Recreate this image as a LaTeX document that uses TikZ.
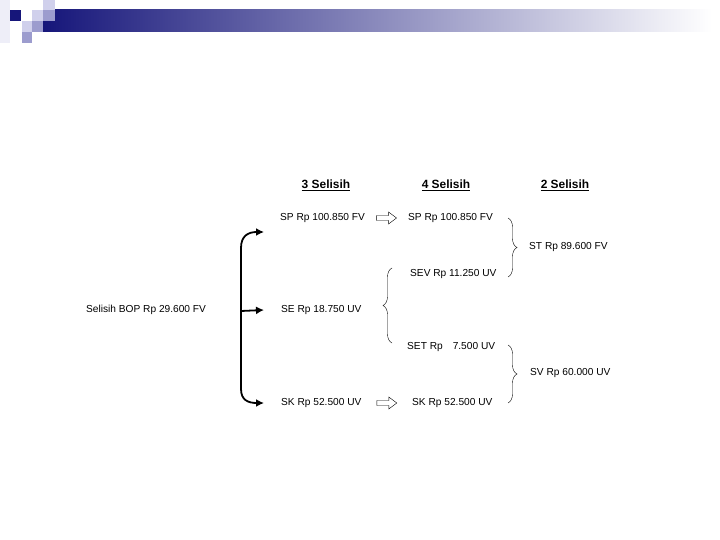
\documentclass[tikz,border=0pt]{standalone}
\usepackage{fontspec}
\setmainfont{Liberation Sans}
\usetikzlibrary{arrows.meta,decorations.pathreplacing,calc}
\definecolor{navy}{HTML}{16167A}
\definecolor{lilac}{HTML}{D0D0EC}
\definecolor{lilacmid}{HTML}{9C9CCE}

\tikzset{
  txt/.style={anchor=west,inner sep=0pt,font=\fontsize{10.2}{12}\selectfont},
  head/.style={inner sep=0pt,font=\fontsize{12}{14}\selectfont\bfseries},
  fork/.style={line width=1.8pt,-{Latex[length=8bp,width=8bp]}},
  brc/.style={decorate,decoration={brace,amplitude=9bp,aspect=0.5},thin},
  hollowarrow/.pic={
    \draw [thin,line join=miter] (-10,-2.5) -- (2,-2.5) -- (2,-6) -- (10,0)
      -- (2,6) -- (2,2.5) -- (-10,2.5) -- cycle;
  }
}

\begin{document}
\begin{tikzpicture}[x=1bp,y=-1bp]
	\useasboundingbox (0,0) rectangle (720,540);

		% header band
		\shade [left color=navy,right color=white] (43,10) rectangle (712,32);
		\fill [lilac!35] (0,0) rectangle (10,43);
		\fill [navy] (10,10) rectangle (21,21);
		\fill [lilac] (43,0) rectangle (55,10);
		\fill [lilac] (32,10) rectangle (43,21);
		\fill [lilacmid] (43,10) rectangle (55,21);
		\fill [lilac] (22,21) rectangle (32,32);
		\fill [lilacmid] (32,21) rectangle (43,32);
		\fill [lilacmid] (22,32) rectangle (32,43);

		% column titles
		\node [head] (h3) at (326,185) {\underline{3 Selisih}};
		\node [head] (h4) at (446,185) {\underline{4 Selisih}};
		\node [head] (h2) at (565,185) {\underline{2 Selisih}};

		% texts
		\node [txt] (bop) at (86,310) {Selisih BOP Rp 29.600 FV};
		\node [txt] (sp3) at (280,218) {SP Rp 100.850 FV};
		\node [txt] (se3) at (281,310) {SE Rp 18.750 UV};
		\node [txt] (sk3) at (281,403) {SK Rp 52.500 UV};
		\node [txt] (sp4) at (408,218) {SP Rp 100.850 FV};
		\node [txt] (sev) at (410,274) {SEV Rp 11.250 UV};
		\node [txt] (set) at (407,347) {SET Rp\hspace{10bp}7.500 UV};
		\node [txt] (sk4) at (412,403) {SK Rp 52.500 UV};
		\node [txt] (st) at (529,247) {ST Rp 89.600 FV};
		\node [txt] (sv) at (530,373) {SV Rp 60.000 UV};

		% hollow arrows
		\pic at ($(sp3.east)!0.5!(sp4.west)$) {hollowarrow};
		\pic at ($(sk3.east)!0.5!(sk4.west)$) {hollowarrow};

		% fork
		\coordinate (fkmid) at (241,311);
		\coordinate (tipsp) at (264,232);
		\coordinate (tipsk) at ($(sk3.west)+(-17,0)$);
		\draw [fork] (fkmid) -- ($(se3.west)+(-17,0)$);
		\draw [fork] (fkmid) -- (241,248) .. controls (241,236) and (248,232) .. (tipsp);
		\draw [fork] (fkmid) -- (241,389) .. controls (241,400) and (248,403) .. (tipsk);

		% braces
		\draw [brc] (508,218) -- (508,277);
		\draw [brc] (392,343) -- (392,268);
		\draw [brc] (508,345) -- (508,403);

\end{tikzpicture}
\end{document}
